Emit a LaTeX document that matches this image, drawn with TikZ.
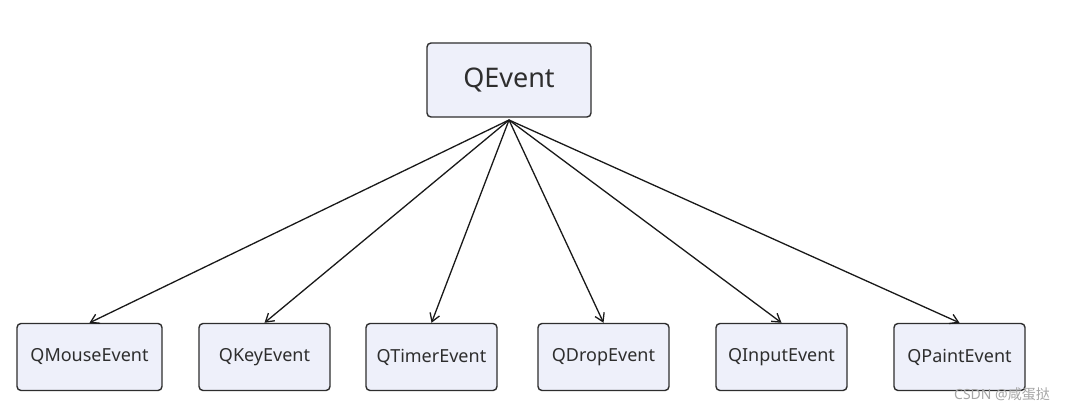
\documentclass[tikz,border=0pt]{standalone}
\usepackage{fontspec}
\setmainfont{Noto Sans}
\newfontfamily\cjk{Noto Sans CJK SC}
\usepackage{xcolor}
\usetikzlibrary{arrows.meta, positioning}
\definecolor{boxfill}{HTML}{EEF0FA}
\definecolor{boxline}{HTML}{2E2E2E}
\tikzset{
  root/.style ={rectangle, rounded corners=4pt, draw=boxline, fill=boxfill,
                line width=1.4pt, text centered, minimum width=164pt,
                minimum height=74pt, font=\fontsize{27}{30}\selectfont,
                text=boxline},
  leaf/.style ={rectangle, rounded corners=4pt, draw=boxline, fill=boxfill,
                line width=1.4pt, text centered, minimum width=131pt,
                minimum height=67pt, font=\fontsize{18}{21}\selectfont,
                text=boxline},
  link/.style ={-{Straight Barb[length=8pt,width=10pt]}, line width=1.3pt,
                draw=black!90},
}
\begin{document}
\begin{tikzpicture}[x=1pt, y=-1pt]

  \useasboundingbox[fill=white] (0,0) rectangle (1065,411);

  \node[root] (qevent) at (509,80) {QEvent};
  \coordinate (hub) at (509,120);

  \node[leaf, minimum width=145pt] (mouse) at (89.5,357) {QMouseEvent};
  \node[leaf, right=35.6pt of mouse] (key)   {QKeyEvent};
  \node[leaf, right=34.6pt of key]   (timer) {QTimerEvent};
  \node[leaf, right=39.6pt of timer] (drop)  {QDropEvent};
  \node[leaf, right=45.6pt of drop]  (input) {QInputEvent};
  \node[leaf, right=45.6pt of input] (paint) {QPaintEvent};

  \foreach \n in {mouse, key, timer, drop, input, paint}
    \draw[link] (hub) -- (\n.north);

  \node[anchor=south east, inner sep=0pt, text=gray!70,
        font=\fontsize{14}{16}\selectfont] (mark) at (1050,401)
        {CSDN @{\cjk 咸蛋挞}};

\end{tikzpicture}
\end{document}
